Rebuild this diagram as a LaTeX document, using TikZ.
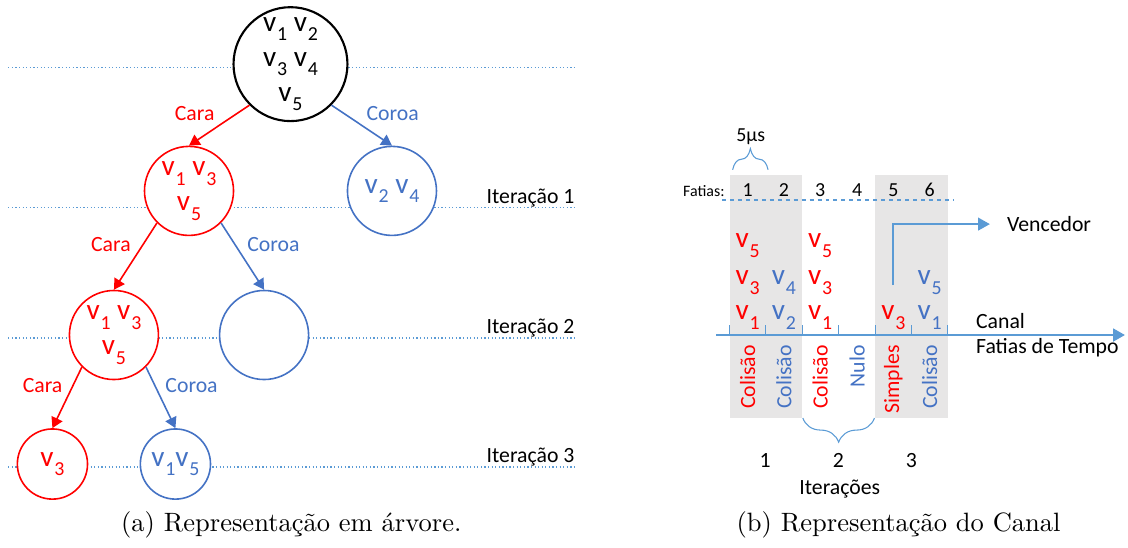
\documentclass[tikz,border=0pt]{standalone}
\usepackage{fontspec}
\newfontfamily\calibri{Carlito}
\usetikzlibrary{arrows.meta,decorations.pathreplacing}

\definecolor{azul}{RGB}{68,114,196}
\definecolor{azulclaro}{RGB}{91,155,213}
\definecolor{cinza}{RGB}{231,230,230}

% v com índice
\newcommand{\vv}[1]{v\kern0.03em\raisebox{-0.33em}{\scalebox{0.68}{#1}}}

\tikzset{
	estado/.style={circle, draw, fill=white, semithick, inner sep=0pt, align=center, font=\calibri\fontsize{11}{13.2}\selectfont},
	cara/.style={red, edge from parent path={(\tikzparentnode.south west) -- (\tikzchildnode.north)}},
	coroa/.style={azul, edge from parent path={(\tikzparentnode.south east) -- (\tikzchildnode.north)}},
	texto/.style={inner sep=0pt, font=\calibri\fontsize{8.2}{10}\selectfont},
	rotulo/.style={inner sep=1.5pt, minimum size=0pt, font=\calibri\fontsize{8.2}{10}\selectfont},
	numero/.style={inner sep=0pt, font=\calibri\fontsize{7.5}{9}\selectfont},
	nome/.style={inner sep=0pt, anchor=base, font=\calibri\fontsize{11}{12}\selectfont},
	iteracao/.style={azulclaro, dash pattern=on 0.45pt off 0.9pt, line width=0.45pt},
	chave/.style={azulclaro, line width=0.4pt, decorate, decoration={brace, amplitude=#1}},
	seta/.style={azulclaro, line width=0.75pt, -{Triangle[length=4.5pt,width=4.8pt]}},
}

\begin{document}
\begin{tikzpicture}[
		>={Triangle[length=4pt,width=4.5pt]},
		edge from parent/.style={draw, ->, semithick},
		level 1/.style={level distance=1.68cm, sibling distance=2.69cm, minimum size=1.18cm}, % nós de cada iteração
		level 2/.style={level distance=1.91cm, sibling distance=1.99cm, minimum size=1.18cm},
		level 3/.style={level distance=1.71cm, sibling distance=1.63cm, minimum size=0.93cm}  % folhas menores
	]
	\useasboundingbox (0,0) rectangle (14.95,7.26);

	% linhas das iterações
	\draw[iteracao] (0.11,6.37) -- (7.65,6.37);
	\draw[iteracao] (0.11,4.51) -- (7.65,4.51);
	\draw[iteracao] (0.11,2.78) -- (7.65,2.78);
	\draw[iteracao] (0.11,1.07) -- (7.65,1.07);
	\node[texto, anchor=base east] (it1) at (7.62,4.56) {Iteração 1};
	\node[texto, anchor=base east] (it2) at (7.62,2.84) {Iteração 2};
	\node[texto, anchor=base east] (it3) at (7.62,1.13) {Iteração 3};

	% árvore
	\node[estado, thick, minimum size=1.51cm] (raiz) at (3.85,6.41) {\vv1 \vv2\\ \vv3 \vv4\\ \vv5}
	child[cara] {node[estado] (cara1) {\vv1 \vv3\\ \vv5}
		child[cara] {node[estado] (cara2) {\vv1 \vv3\\ \vv5}
			child[cara] {node[estado] (cara3) {\vv3} edge from parent node[rotulo, above left] {Cara}}
			child[coroa] {node[estado] (coroa3) {\vv1\vv5} edge from parent node[rotulo, above right] {Coroa}}
			edge from parent node[rotulo, above left] {Cara}
		}
		child[coroa] {node[estado] (coroa2) {} edge from parent node[rotulo, above right] {Coroa}}
		edge from parent node[rotulo, above left] {Cara}
	}
	child[coroa] {node[estado] (coroa1) {\vv2 \vv4} edge from parent node[rotulo, above right] {Coroa}};

	% canal: fatias de tempo
	\fill[cinza] (9.67,1.72) rectangle (10.63,4.94);
	\fill[cinza] (11.60,1.72) rectangle (12.56,4.94);
	\draw[azulclaro, line width=0.5pt, dash pattern=on 1.5pt off 1.5pt] (9.57,4.61) -- (12.63,4.61);

	\node[inner sep=0pt, anchor=base east, font=\calibri\fontsize{6}{7}\selectfont] (fatias) at (9.61,4.655) {Fatias:};
	\node[numero, anchor=base] (f1) at (9.91,4.65) {1};
	\node[numero, anchor=base] (f2) at (10.39,4.65) {2};
	\node[numero, anchor=base] (f3) at (10.87,4.65) {3};
	\node[numero, anchor=base] (f4) at (11.36,4.65) {4};
	\node[numero, anchor=base] (f5) at (11.84,4.65) {5};
	\node[numero, anchor=base] (f6) at (12.32,4.65) {6};

	\draw[chave=0.28cm] (9.71,5.01) -- (10.18,5.01);
	\node[numero, anchor=base] (tempo) at (9.95,5.38) {5µs};

	% etiquetas transmitidas em cada fatia
	\node[nome, red] (s1a) at (9.91,3.02) {\vv1};
	\node[nome, red] (s1b) at (9.91,3.49) {\vv3};
	\node[nome, red] (s1c) at (9.91,3.98) {\vv5};
	\node[nome, azul] (s2a) at (10.39,3.02) {\vv2};
	\node[nome, azul] (s2b) at (10.39,3.49) {\vv4};
	\node[nome, red] (s3a) at (10.87,3.02) {\vv1};
	\node[nome, red] (s3b) at (10.87,3.49) {\vv3};
	\node[nome, red] (s3c) at (10.87,3.98) {\vv5};
	\node[nome, red] (s5a) at (11.84,3.02) {\vv3};
	\node[nome, azul] (s6a) at (12.32,3.02) {\vv1};
	\node[nome, azul] (s6b) at (12.32,3.49) {\vv5};

	\coordinate (venc) at (11.84,3.48);
	\node[texto, anchor=west, inner xsep=0.22cm] (vencedor) at (13.12,4.29) {Vencedor};
	\draw[seta] (venc) |- (vencedor.west);

	% eixo do canal
	\coordinate (eixoini) at (9.49,2.82);
	\coordinate (eixofim) at (14.91,2.82);
	\draw[seta, line width=1pt] (eixoini) -- (eixofim);
	\draw[azulclaro, line width=0.4pt] (9.67,2.82) -- ++(0,0.135) (10.15,2.82) -- ++(0,0.135)
		(10.63,2.82) -- ++(0,0.135) (11.11,2.82) -- ++(0,0.135) (11.60,2.82) -- ++(0,0.135)
		(12.08,2.82) -- ++(0,0.135) (12.56,2.82) -- ++(0,0.135);
	\node[texto, anchor=base west] (canal) at (12.93,2.90) {Canal};
	\node[texto, anchor=base west] (eixo) at (12.93,2.58) {Fatias de Tempo};

	% resultado de cada fatia
	\node[texto, rotate=90, anchor=east, red] (r1) at (9.91,2.69) {Colisão};
	\node[texto, rotate=90, anchor=east, azul] (r2) at (10.39,2.69) {Colisão};
	\node[texto, rotate=90, anchor=east, red] (r3) at (10.87,2.69) {Colisão};
	\node[texto, rotate=90, anchor=east, azul] (r4) at (11.36,2.69) {Nulo};
	\node[texto, rotate=90, anchor=east, red] (r5) at (11.84,2.69) {Simples};
	\node[texto, rotate=90, anchor=east, azul] (r6) at (12.32,2.69) {Colisão};

	\draw[chave=0.32cm] (11.59,1.72) -- (10.64,1.72);
	\node[texto, anchor=base] (i1) at (10.14,1.06) {1};
	\node[texto, anchor=base] (i2) at (11.11,1.06) {2};
	\node[texto, anchor=base] (i3) at (12.08,1.06) {3};
	\node[texto, anchor=base] (iteracoes) at (11.13,0.70) {Iterações};

	% legendas
	\node[anchor=base] (legA) at (3.86,0.21) {(a) Representação em árvore.};
	\node[anchor=base] (legB) at (11.91,0.21) {(b) Representação do Canal};
\end{tikzpicture}
\end{document}
